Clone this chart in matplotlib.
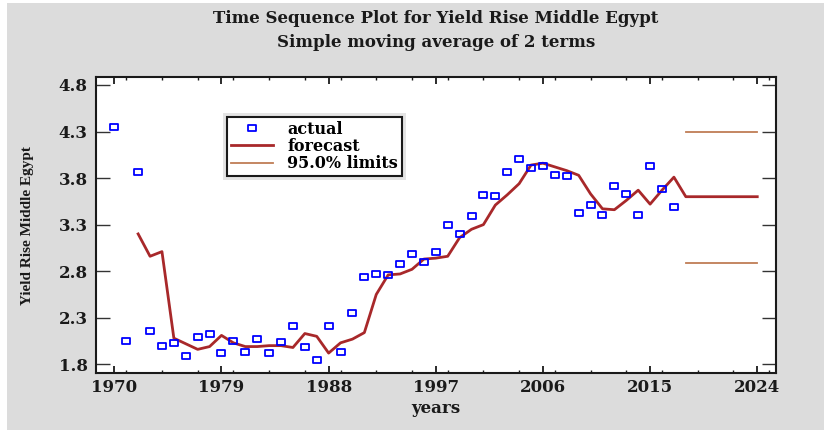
import matplotlib as mpl
mpl.use('Agg')
import matplotlib.pyplot as plt
from matplotlib.path import Path
from matplotlib.patches import Rectangle
from matplotlib.ticker import MultipleLocator

# Observed yield, 1970-2017
years = list(range(1970, 2018))
actual = [4.35, 2.05, 3.86, 2.16, 2.00, 2.03, 1.89, 2.09, 2.13, 1.92,
          2.05, 1.93, 2.07, 1.92, 2.04, 2.21, 1.99, 1.85, 2.21, 1.93,
          2.35, 2.74, 2.77, 2.76, 2.88, 2.98, 2.90, 3.01, 3.30, 3.20,
          3.39, 3.62, 3.61, 3.87, 4.01, 3.91, 3.93, 3.83, 3.82, 3.43,
          3.51, 3.40, 3.71, 3.63, 3.40, 3.93, 3.68, 3.49]

# Moving average forecast, 1972-2024
fcYears = list(range(1972, 2025))
forecast = [3.20, 2.96, 3.01, 2.08, 2.02, 1.96, 1.99, 2.11, 2.03, 1.99,
            1.99, 2.00, 2.00, 1.98, 2.13, 2.10, 1.92, 2.03, 2.07, 2.14,
            2.55, 2.76, 2.77, 2.82, 2.93, 2.94, 2.96, 3.16, 3.25, 3.30,
            3.51, 3.62, 3.74, 3.94, 3.96, 3.92, 3.88, 3.83, 3.63, 3.47,
            3.46, 3.56, 3.67, 3.52, 3.67, 3.81, 3.60, 3.60, 3.60, 3.60,
            3.60, 3.60, 3.60]

# 95% limits over the forecast horizon
limYears = [2018, 2024]
upperLim = [4.29, 4.29]
lowerLim = [2.89, 2.89]

xTicks = [1970, 1979, 1988, 1997, 2006, 2015, 2024]
yTicks = [1.8, 2.3, 2.8, 3.3, 3.8, 4.3, 4.8]

serif = 'DejaVu Serif'
bg = '#dcdcdc'

fig = plt.figure(figsize=(8.24, 4.30), dpi=100, facecolor='white')
fig.patches.append(Rectangle((0.008, 0.0), 0.992, 0.993, transform=fig.transFigure,
                             facecolor=bg, edgecolor='none', zorder=-10))
ax = fig.add_axes([0.1165, 0.1319, 0.8249, 0.6897])

# slightly wide rectangular open marker
box = Path([(-1.35, -1), (1.35, -1), (1.35, 1), (-1.35, 1), (-1.35, -1)],
           [Path.MOVETO, Path.LINETO, Path.LINETO, Path.LINETO, Path.CLOSEPOLY])

ax.plot(years, actual, linestyle='none', marker=box, markersize=6.2,
        markerfacecolor='none', markeredgecolor='#0000ff', markeredgewidth=1.3,
        label='actual', zorder=4)
ax.plot(fcYears, forecast, color='#a8282a', linewidth=2.0, label='forecast', zorder=3)
ax.plot(limYears, upperLim, color='#bf7d55', linewidth=1.3, label='95.0% limits', zorder=2)
ax.plot(limYears, lowerLim, color='#bf7d55', linewidth=1.3, zorder=2)

ax.set_xlim(1968.46, 2025.55)
ax.set_ylim(1.703, 4.889)
ax.set_xticks(xTicks)
ax.xaxis.set_minor_locator(MultipleLocator(3))
ax.set_yticks(yTicks)
ax.set_yticklabels(['%.1f' % t for t in yTicks])

for s in ax.spines.values():
    s.set_linewidth(1.5)
    s.set_color('#1a1a1a')

ax.tick_params(axis='y', which='major', direction='in', length=10, width=1.0,
               left=True, right=True, pad=6, color='#333333')
ax.tick_params(axis='x', which='major', direction='in', length=5, width=1.3,
               top=True, bottom=True, pad=4, color='#1a1a1a')
ax.tick_params(axis='x', which='minor', direction='in', length=2.5, width=1.0,
               top=True, bottom=True, color='#1a1a1a')
for lbl in ax.get_xticklabels() + ax.get_yticklabels():
    lbl.set_fontfamily(serif)
    lbl.set_fontweight('bold')
    lbl.set_fontsize(12)
    lbl.set_color('#1a1a1a')

fig.text(0.529, 0.958, 'Time Sequence Plot for Yield Rise Middle Egypt',
         ha='center', va='center', family=serif, weight='bold', size=12, color='#1a1a1a')
fig.text(0.529, 0.902, 'Simple moving average of 2 terms',
         ha='center', va='center', family=serif, weight='bold', size=12, color='#1a1a1a')
fig.text(0.529, 0.051, 'years', ha='center', va='center', family=serif,
         weight='bold', size=12, color='#1a1a1a')
fig.text(0.033, 0.4767, 'Yield Rise Middle Egypt', rotation=90, ha='center', va='center',
         family='Liberation Serif', weight='bold', size=11, color='#1a1a1a')

leg = ax.legend(loc='upper left', bbox_to_anchor=(0.193, 0.865), borderaxespad=0,
                prop={'family': serif, 'weight': 'bold', 'size': 11.5},
                handlelength=2.6, handletextpad=0.9, labelspacing=0.02,
                borderpad=0.25, fancybox=False, framealpha=1, numpoints=1)
leg.get_frame().set_edgecolor('#1a1a1a')
leg.get_frame().set_linewidth(1.5)
leg.set_zorder(6)

# light grey margin round the legend box
fig.canvas.draw()
bb = leg.get_window_extent().transformed(ax.transAxes.inverted())
padx = 4 / ax.bbox.width
pady = 4 / ax.bbox.height
ax.add_patch(Rectangle((bb.x0 - padx, bb.y0 - pady), bb.width + 2 * padx, bb.height + 2 * pady,
                       transform=ax.transAxes, facecolor='#e4e4e4', edgecolor='none', zorder=5))

fig.savefig('out.png', dpi=100, facecolor=fig.get_facecolor())
